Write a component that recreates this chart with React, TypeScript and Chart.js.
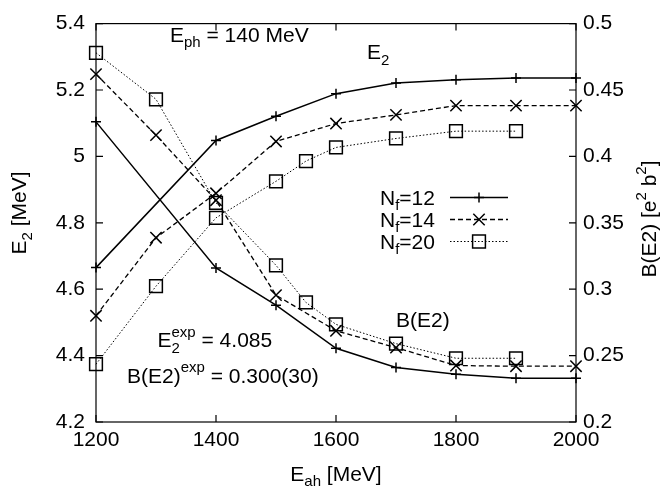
import React, { useEffect, useRef } from 'react';
import { Chart, registerables } from 'chart.js';

Chart.register(...registerables);

const FONT = '"Liberation Sans", Arial, Helvetica, sans-serif';
const F = 21;
const FS = 15;

// Data
const energiesNf12 = [1200, 1400, 1500, 1600, 1700, 1800, 1900, 2000];
const e2Nf12 = [4.665, 5.048, 5.121, 5.189, 5.221, 5.231, 5.236, 5.236];
const be2Nf12 = [0.426, 0.316, 0.288, 0.2555, 0.241, 0.236, 0.233, 0.233];

const energiesNf14 = [1200, 1300, 1400, 1500, 1600, 1700, 1800, 1900, 2000];
const e2Nf14 = [4.52, 4.755, 4.889, 5.045, 5.099, 5.125, 5.153, 5.153, 5.153];
const be2Nf14 = [0.462, 0.416, 0.367, 0.2955, 0.2687, 0.256, 0.2425, 0.242, 0.242];

const energiesNf20 = [1200, 1300, 1400, 1500, 1550, 1600, 1700, 1800, 1900];
const e2Nf20 = [4.374, 4.609, 4.815, 4.925, 4.986, 5.027, 5.054, 5.076, 5.076];
const be2Nf20 = [0.478, 0.443, 0.365, 0.318, 0.29, 0.2735, 0.259, 0.248, 0.248];

const seriesLabels = ['12', '14', '20'];

type Seg = { t: string; size: number; dy: number; noAdvance?: boolean };

function segWidth(ctx: CanvasRenderingContext2D, segs: Seg[]) {
  let w = 0;
  for (const s of segs) {
    ctx.font = `${s.size}px ${FONT}`;
    if (!s.noAdvance) w += ctx.measureText(s.t).width;
  }
  return w;
}

function drawSegs(ctx: CanvasRenderingContext2D, segs: Seg[], x: number, y: number) {
  let cx = x;
  ctx.textAlign = 'left';
  ctx.textBaseline = 'alphabetic';
  ctx.fillStyle = '#000';
  for (const s of segs) {
    ctx.font = `${s.size}px ${FONT}`;
    ctx.fillText(s.t, cx, y + s.dy);
    if (!s.noAdvance) cx += ctx.measureText(s.t).width;
  }
  return cx;
}

function drawMarker(ctx: CanvasRenderingContext2D, kind: number, x: number, y: number) {
  ctx.save();
  ctx.setLineDash([]);
  ctx.lineWidth = 1.5;
  ctx.strokeStyle = '#000';
  ctx.beginPath();
  if (kind === 0) {
    ctx.moveTo(x - 5, y); ctx.lineTo(x + 5, y);
    ctx.moveTo(x, y - 5); ctx.lineTo(x, y + 5);
  } else if (kind === 1) {
    const d = 5.7;
    ctx.moveTo(x - d, y - d); ctx.lineTo(x + d, y + d);
    ctx.moveTo(x - d, y + d); ctx.lineTo(x + d, y - d);
  } else {
    const d = 6.4;
    ctx.rect(x - d, y - d, 2 * d, 2 * d);
  }
  ctx.stroke();
  ctx.restore();
}

const lineStyles = [
  { dash: [] as number[], width: 1.5, style: 'cross', radius: 5 },
  { dash: [5, 3], width: 1.3, style: 'crossRot', radius: 8 },
  { dash: [1.5, 2], width: 1, style: 'rect', radius: 9 },
];

const decorPlugin = {
  id: 'decor',
  beforeDatasetsDraw(chart: any) {
    const ctx: CanvasRenderingContext2D = chart.ctx;
    const { left, right, top, bottom } = chart.chartArea;
    const sx = chart.scales.x;
    const sy = chart.scales.y;
    const sy2 = chart.scales.y2;
    ctx.save();
    ctx.strokeStyle = '#000';
    ctx.lineWidth = 1.2;
    ctx.setLineDash([]);
    ctx.strokeRect(left, top, right - left, bottom - top);
    const tl = 7;
    ctx.beginPath();
    for (const t of sx.ticks) {
      const px = sx.getPixelForValue(t.value);
      ctx.moveTo(px, bottom); ctx.lineTo(px, bottom - tl);
      ctx.moveTo(px, top); ctx.lineTo(px, top + tl);
    }
    for (const t of sy.ticks) {
      const py = sy.getPixelForValue(t.value);
      ctx.moveTo(left, py); ctx.lineTo(left + tl, py);
    }
    for (const t of sy2.ticks) {
      const py = sy2.getPixelForValue(t.value);
      ctx.moveTo(right, py); ctx.lineTo(right - tl, py);
    }
    ctx.stroke();
    ctx.restore();
  },
  afterDraw(chart: any) {
    const ctx: CanvasRenderingContext2D = chart.ctx;
    const { left, right } = chart.chartArea;
    ctx.save();
    // annotations
    drawSegs(ctx, [
      { t: 'E', size: F, dy: 0 },
      { t: 'ph', size: FS, dy: 5 },
      { t: ' = 140 MeV', size: F, dy: 0 },
    ], 170, 42);
    drawSegs(ctx, [
      { t: 'E', size: F, dy: 0 },
      { t: '2', size: FS, dy: 6 },
    ], 367, 59);
    drawSegs(ctx, [{ t: 'B(E2)', size: F, dy: 0 }], 396, 327);
    drawSegs(ctx, [
      { t: 'E', size: F, dy: 0 },
      { t: '2', size: FS, dy: 6, noAdvance: true },
      { t: 'exp', size: FS, dy: -10 },
      { t: ' = 4.085', size: F, dy: 0 },
    ], 157.5, 347);
    drawSegs(ctx, [
      { t: 'B(E2)', size: F, dy: 0 },
      { t: 'exp', size: FS, dy: -11 },
      { t: ' = 0.300(30)', size: F, dy: 0 },
    ], 127, 383);

    // legend
    const rowY = [197.5, 219.5, 241.5];
    for (let i = 0; i < 3; i++) {
      const y = rowY[i];
      drawSegs(ctx, [
        { t: 'N', size: F, dy: 0 },
        { t: 'f', size: FS, dy: 5 },
        { t: '=' + seriesLabels[i], size: F, dy: 0 },
      ], 380, y + 7);
      const ls = lineStyles[i];
      ctx.save();
      ctx.strokeStyle = '#000';
      ctx.lineWidth = ls.width;
      ctx.setLineDash(ls.dash);
      ctx.beginPath();
      ctx.moveTo(450, y); ctx.lineTo(508, y);
      ctx.stroke();
      ctx.restore();
      drawMarker(ctx, i, 479, y);
    }

    // axis titles
    const cx = (left + right) / 2;
    const xt: Seg[] = [
      { t: 'E', size: F, dy: 0 },
      { t: 'ah', size: FS, dy: 5 },
      { t: ' [MeV]', size: F, dy: 0 },
    ];
    drawSegs(ctx, xt, cx - segWidth(ctx, xt) / 2, 481);

    const yt: Seg[] = [
      { t: 'E', size: F, dy: 0 },
      { t: '2', size: FS, dy: 6 },
      { t: ' [MeV]', size: F, dy: 0 },
    ];
    ctx.save();
    ctx.translate(26, 213);
    ctx.rotate(-Math.PI / 2);
    drawSegs(ctx, yt, -segWidth(ctx, yt) / 2, 0);
    ctx.restore();

    const y2t: Seg[] = [
      { t: 'B(E2) [e', size: F, dy: 0 },
      { t: '2', size: FS, dy: -10 },
      { t: ' b', size: F, dy: 0 },
      { t: '2', size: FS, dy: -10 },
      { t: ']', size: F, dy: 0 },
    ];
    ctx.save();
    ctx.translate(656, 219);
    ctx.rotate(-Math.PI / 2);
    drawSegs(ctx, y2t, -segWidth(ctx, y2t) / 2, 0);
    ctx.restore();

    ctx.restore();
  },
};

function fmt(v: number) {
  return String(parseFloat(v.toFixed(3)));
}

function makeDataset(xs: number[], ys: number[], i: number, axis: string) {
  const ls = lineStyles[i];
  return {
    label: 'Nf=' + seriesLabels[i] + (axis === 'y' ? ' E2' : ' B(E2)'),
    data: xs.map((x, k) => ({ x, y: ys[k] })),
    yAxisID: axis,
    borderColor: '#000',
    borderWidth: ls.width,
    borderDash: ls.dash,
    pointStyle: ls.style,
    pointRadius: ls.radius,
    pointBorderWidth: 1.5,
    pointBorderColor: '#000',
    pointBackgroundColor: 'rgba(0,0,0,0)',
    backgroundColor: 'rgba(0,0,0,0)',
    fill: false,
    tension: 0,
    clip: false as any,
  };
}

export default function App() {
  const ref = useRef<HTMLCanvasElement>(null);
  useEffect(() => {
    document.body.style.margin = '0';
    const canvas = ref.current!;
    const tickFont = { family: FONT, size: F };
    const chart = new Chart(canvas, {
      type: 'line',
      data: {
        datasets: [
          makeDataset(energiesNf12, e2Nf12, 0, 'y'),
          makeDataset(energiesNf14, e2Nf14, 1, 'y'),
          makeDataset(energiesNf20, e2Nf20, 2, 'y'),
          makeDataset(energiesNf12, be2Nf12, 0, 'y2'),
          makeDataset(energiesNf14, be2Nf14, 1, 'y2'),
          makeDataset(energiesNf20, be2Nf20, 2, 'y2'),
        ] as any,
      },
      options: {
        responsive: false,
        animation: false,
        devicePixelRatio: 1,
        layout: { padding: { top: 13, left: 0, right: 0, bottom: 0 } },
        plugins: { legend: { display: false }, tooltip: { enabled: false } },
        scales: {
          x: {
            type: 'linear',
            min: 1200,
            max: 2000,
            grid: { display: false, drawTicks: false },
            border: { display: false },
            ticks: {
              stepSize: 200,
              autoSkip: false,
              maxRotation: 0,
              padding: 6,
              color: '#000',
              font: tickFont,
              callback: (v: any) => fmt(Number(v)),
            },
            afterFit: (s: any) => { s.height = 66; },
          },
          y: {
            type: 'linear',
            position: 'left',
            min: 4.2,
            max: 5.4,
            grid: { display: false, drawTicks: false },
            border: { display: false },
            ticks: {
              stepSize: 0.2,
              padding: 11,
              color: '#000',
              font: tickFont,
              callback: (v: any) => fmt(Number(v)),
            },
            afterFit: (s: any) => { s.width = 96; },
          },
          y2: {
            type: 'linear',
            position: 'right',
            min: 0.2,
            max: 0.5,
            grid: { display: false, drawTicks: false },
            border: { display: false },
            ticks: {
              stepSize: 0.05,
              padding: 7,
              color: '#000',
              font: tickFont,
              callback: (v: any) => fmt(Number(v)),
            },
            afterFit: (s: any) => { s.width = 86; },
          },
        },
      } as any,
      plugins: [decorPlugin],
    });
    return () => chart.destroy();
  }, []);
  return (
    <div style={{ position: 'relative', width: 662, height: 488 }}>
      <canvas ref={ref} width={662} height={488} style={{ display: 'block', width: 662, height: 488 }} />
    </div>
  );
}
